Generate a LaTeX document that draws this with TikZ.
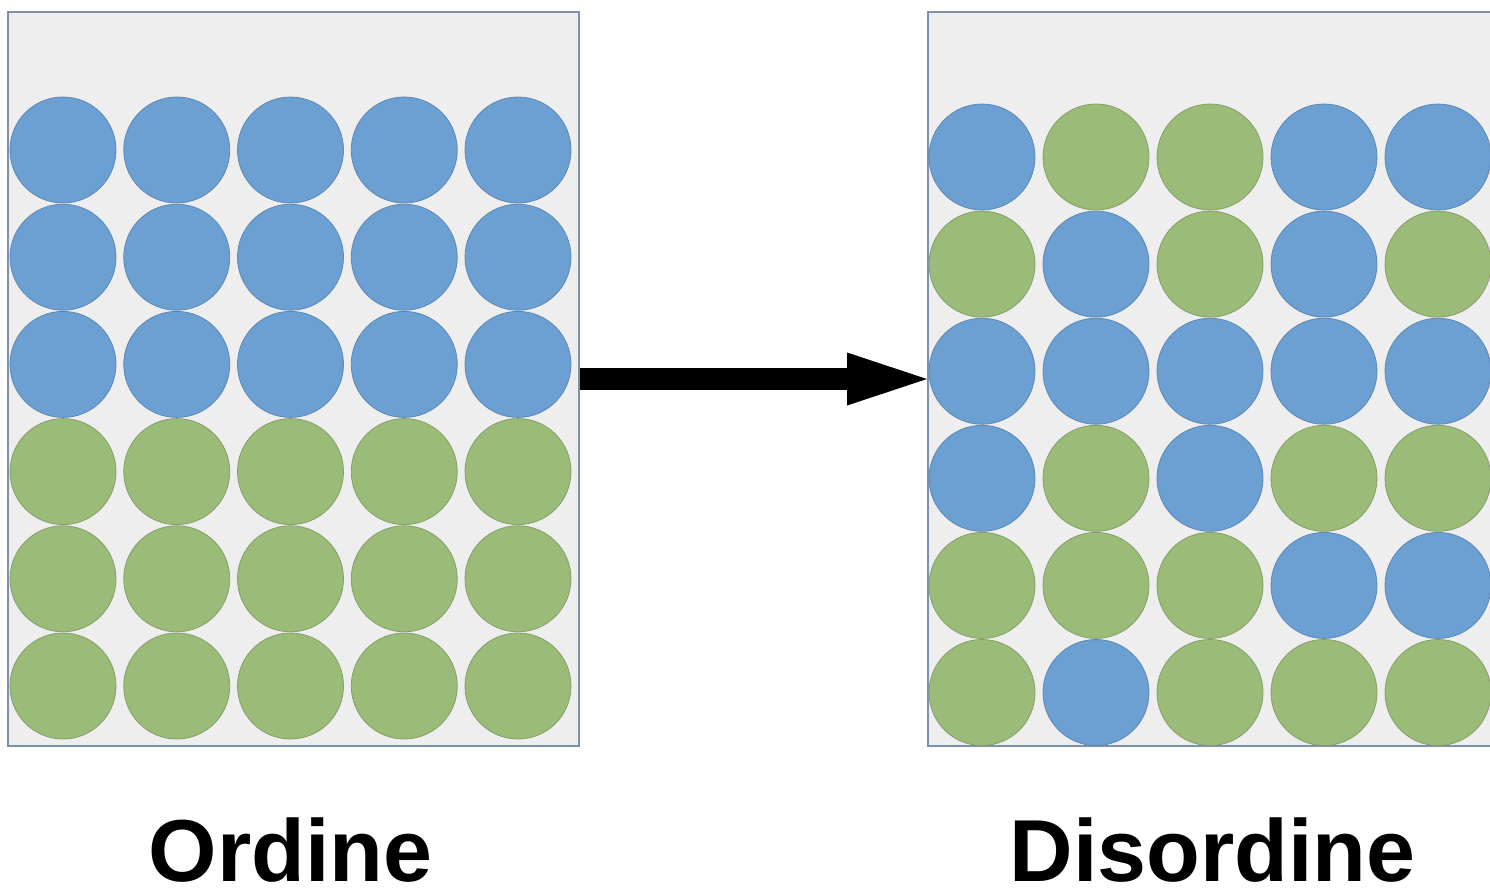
\documentclass[tikz,border=0pt]{standalone}
\usepackage{fontspec}
\setmainfont{Liberation Sans}
\definecolor{ballB}{RGB}{108, 160, 211}
\definecolor{ballG}{RGB}{155, 187, 121}
\definecolor{boxline}{RGB}{125, 145, 175}
\definecolor{boxfill}{RGB}{238, 238, 238}
\usetikzlibrary{arrows.meta, positioning}

\begin{document}
\begin{tikzpicture}[x=0.5pt, y=-0.5pt,
  box/.style={draw=boxline, fill=boxfill, line width=1pt, minimum width=285.5pt, minimum height=367pt, inner sep=0pt},
  ball/.style={circle, minimum size=53pt, inner sep=0pt, draw=#1!85!black, line width=0.4pt, fill=#1},
  caption/.style={font=\fontsize{44}{52}\selectfont\bfseries, anchor=base, inner sep=0pt}]
  \useasboundingbox (0,0) rectangle (1490,890);

  % ordered box
  \node[box] (ordbox) at (293.5,379) {};
  \foreach \col [count=\r from 0] in {B,B,B,G,G,G}
    \foreach \c in {0,...,4}
      \node[ball=ball\col] (o-\r-\c) at (63+113.75*\c, 150+107.2*\r) {};

  % disordered box
  \node[box] (disbox) at (1213.5,379) {};
  \foreach \pat [count=\r from 0] in {{B,G,G,B,B},{G,B,G,B,G},{B,B,B,B,B},{B,G,B,G,G},{G,G,G,B,B},{G,B,G,G,G}}
    \foreach \col [count=\c from 0] in \pat
      \node[ball=ball\col] (d-\r-\c) at (982+114*\c, 157+107.1*\r) {};

  \draw[line width=11pt, -{Triangle[length=40pt 0, width=26.5pt 0, line width=0pt 0 0]}] (ordbox.east) -- (disbox.west);

  \node[caption] (ordlabel) at (290.5,881) {Ordine};
  \node[caption] (dislabel) at (1212.5,881) {Disordine};
\end{tikzpicture}
\end{document}
